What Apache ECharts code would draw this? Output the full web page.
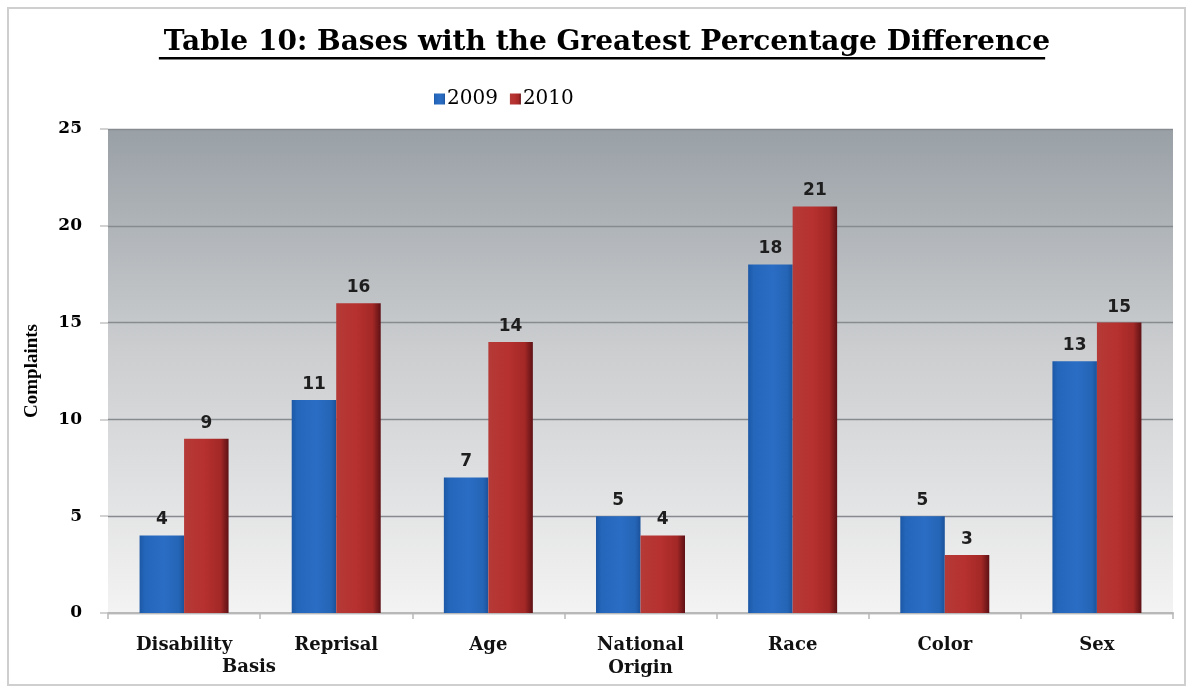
<!DOCTYPE html>
<html>
<head>
<meta charset="utf-8">
<script src="https://cdn.jsdelivr.net/npm/echarts@6/dist/echarts.min.js"></script>
<style>
  html, body { margin: 0; padding: 0; background: #ffffff; }
  #frame { position: absolute; left: 7px; top: 7px; width: 1179px; height: 679px; border: 2px solid #cfcfcf; box-sizing: border-box; }
  #chart { position: absolute; left: 0; top: 0; width: 1193px; height: 692px; }
</style>
</head>
<body>
<div id="frame"></div>
<div id="chart"></div>
<script>
// Complaints by basis, two filing years
const categories = ['Disability', 'Reprisal', 'Age', 'National\nOrigin', 'Race', 'Color', 'Sex'];
const years = ['2009', '2010'];
const values2009 = [4, 11, 7, 5, 18, 5, 13];
const values2010 = [9, 16, 14, 4, 21, 3, 15];
const yTicks = [0, 5, 10, 15, 20, 25];

const wideSerif = '"DejaVu Serif", "Liberation Serif", serif';
const serif = '"Liberation Serif", "DejaVu Serif", serif';
const titleText = 'Table 10: Bases with the Greatest Percentage Difference';
const titleSize = 28;
const titleCenterX = 602;

// width of the title, used for its underline
const measureCtx = document.createElement('canvas').getContext('2d');
measureCtx.font = 'bold ' + titleSize + 'px "DejaVu Serif"';
const titleWidth = measureCtx.measureText(titleText).width;

function barGradient(stops) {
  return new echarts.graphic.LinearGradient(0, 0, 1, 0,
    stops.map(([offset, color]) => ({ offset, color })));
}

const labelStyle = {
  show: true, position: 'top', distance: 7,
  fontFamily: '"DejaVu Sans", sans-serif', fontWeight: 'bold', fontSize: 17, color: '#1e1e1e'
};

const chart = echarts.init(document.getElementById('chart'));
chart.setOption({
  animation: false,
  title: {
    text: titleText,
    left: titleCenterX, top: 24, textAlign: 'center',
    textStyle: { fontFamily: wideSerif, fontWeight: 'bold', fontSize: titleSize, color: '#000' }
  },
  legend: {
    data: years,
    left: 429, top: 84,
    itemWidth: 11, itemHeight: 11, itemGap: 12,
    icon: 'rect',
    textStyle: { fontFamily: wideSerif, fontSize: 20, color: '#000', padding: [0, 0, 0, -3] }
  },
  grid: { left: 108, right: 20, top: 129, bottom: 79 },
  xAxis: {
    type: 'category',
    data: categories,
    axisLine: { lineStyle: { color: '#b8b8b8', width: 2 } },
    axisTick: { show: true, length: 6, lineStyle: { color: '#b8b8b8', width: 1.5 } },
    axisLabel: { fontFamily: wideSerif, fontWeight: 'bold', fontSize: 18, color: '#111',
      margin: 21, lineHeight: 23 }
  },
  yAxis: {
    type: 'value',
    min: 0, max: 25, interval: 5,
    name: 'Complaints',
    nameLocation: 'middle', nameGap: 66, nameRotate: 90,
    nameTextStyle: { fontFamily: serif, fontWeight: 'bold', fontSize: 19, color: '#000' },
    axisLine: { show: false },
    axisTick: { show: true, length: 8, lineStyle: { color: '#c4c4c4', width: 1.5 } },
    axisLabel: { fontFamily: wideSerif, fontWeight: 'bold', fontSize: 17, color: '#000', margin: 26,
      formatter: v => yTicks.includes(v) ? String(v) : '' },
    splitLine: { lineStyle: { color: '#878b90', width: 1.3 } }
  },
  series: [
    {
      name: '2009', type: 'bar', data: values2009,
      barGap: '0%', barCategoryGap: '41.5%',
      itemStyle: { borderWidth: 0,
        color: barGradient([[0, '#1c58a6'], [0.12, '#2466ba'], [0.55, '#2a6dc4'], [0.88, '#2565b6'], [1, '#1b529b']]) },
      label: labelStyle,
      z: 3
    },
    {
      name: '2010', type: 'bar', data: values2010,
      itemStyle: { borderWidth: 0,
        color: barGradient([[0, '#b53a37'], [0.45, '#b6312f'], [0.82, '#a32826'], [1, '#5e1115']]) },
      label: labelStyle,
      z: 3
    }
  ],
  color: ['#2565b8', '#ad2f33']
});

// Plot-area backdrop: grey at the top fading to near white at the baseline
const gridRect = chart.getModel().getComponent('grid').coordinateSystem.getRect();
chart.setOption({
  graphic: [
    { type: 'rect', silent: true,
      shape: { x: titleCenterX - titleWidth / 2, y: 57, width: titleWidth, height: 2.5 },
      style: { fill: '#000' } },
    { type: 'text', left: 222, top: 658,
      style: { text: 'Basis', font: 'bold 18px ' + wideSerif, fill: '#111' } },
    { type: 'rect', z: -10, silent: true,
      shape: { x: gridRect.x, y: gridRect.y, width: gridRect.width, height: gridRect.height },
      style: { fill: new echarts.graphic.LinearGradient(0, 0, 0, 1, [
        { offset: 0, color: '#99a0a6' },
        { offset: 0.45, color: '#cbcdcf' },
        { offset: 1, color: '#f3f3f3' }
      ]) } }
  ]
});
</script>
</body>
</html>
